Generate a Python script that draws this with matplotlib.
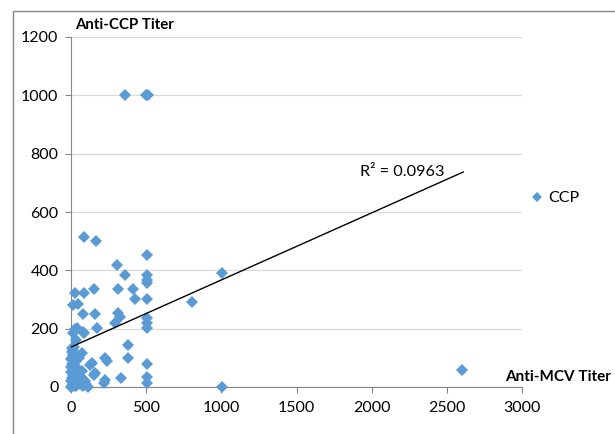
import matplotlib
matplotlib.use("Agg")
import matplotlib.pyplot as plt
from matplotlib.patches import Rectangle
import numpy as np

plt.rcParams['font.family'] = ['Lato', 'DejaVu Sans']

# Anti-MCV titer (x) vs Anti-CCP titer (y)
mcv = [360, 500, 510,
       86, 166, 506, 306, 359, 506, 506, 506, 27, 86, 153, 313, 412, 426, 506,
       13, 47, 80, 160, 313, 326, 293, 506, 506, 506, 40, 80, 173, 13, 33, 86,
       805, 1005, 380, 226, 240, 380, 506, 506, 506, 333, 220, 153, 140, 1005,
       2602, 73, 126, 160, 226, 27, 7,
       0, 5, 10, 15, 20, 25, 30, 0, 8, 12, 20, 3, 10, 18, 25, 0, 6, 14, 22,
       2, 9, 16, 4, 12, 20, 30, 40, 45, 50, 60, 70, 80, 90, 75, 100, 110, 35, 55]
ccp = [1000, 1000, 1000,
       514, 500, 452, 418, 384, 384, 367, 357, 322, 322, 336, 336, 336, 302, 302,
       281, 284, 250, 250, 254, 240, 219, 237, 219, 202, 202, 189, 202, 185, 161, 185,
       291, 391, 144, 99, 88, 99, 79, 34, 14, 31, 14, 41, 82, 0,
       58, 117, 75, 48, 24, 200, 135,
       0, 3, 8, 12, 5, 18, 2, 20, 30, 40, 35, 50, 55, 62, 48, 70, 80, 88, 75,
       95, 100, 110, 120, 128, 138, 25, 15, 40, 60, 10, 30, 5, 20, 55, 12, 0, 90, 100]

# linear trendline as shown in the chart
trend_intercept = 137
trend_slope = 0.23
trend_x = [0, 2609]
r2_label = "R² = 0.0963"

fig = plt.figure(figsize=(6.15, 4.34), dpi=100)
ax = fig.add_axes([71/615, 47/434, 451/615, 350/434])

ax.plot(mcv, ccp, linestyle="none", marker="D", ms=6.2, color="#5B9BD5",
        markeredgewidth=0, label="CCP", clip_on=False, zorder=3)
tx = np.array(trend_x)
ax.plot(tx, trend_intercept + trend_slope * tx, color="black", lw=1, zorder=4)
ax.text(1920, 712, r2_label, fontsize=11.7, ha="left", va="bottom")

ax.set_xlim(0, 3000)
ax.set_ylim(0, 1200)
ax.set_xticks(range(0, 3001, 500))
ax.set_yticks(range(0, 1201, 200))
ax.yaxis.grid(True, color="#D9D9D9", lw=0.9)
ax.set_axisbelow(True)
for s in ["top", "right"]:
    ax.spines[s].set_visible(False)
for s in ["left", "bottom"]:
    ax.spines[s].set_color("#868686")
ax.tick_params(axis="both", color="#868686", length=4, labelsize=11.5)
ax.tick_params(axis="x", pad=6)
ax.tick_params(axis="y", pad=5)

fig.text(75/615, 1 - 25/434, "Anti-CCP Titer", fontsize=10.8, fontweight="bold", va="center")
fig.text(505/615, 57/434, "Anti-MCV Titer", fontsize=11, fontweight="bold", va="center")

ax.legend(loc="center left", bbox_to_anchor=(516/615, 1 - 198/434),
          bbox_transform=fig.transFigure, frameon=False, fontsize=11.5,
          handlelength=0.8, handletextpad=0.3, markerscale=0.75)

fig.patches.append(Rectangle((13/615, -0.01), 1.0, 1 - 11/434 + 0.01,
                             transform=fig.transFigure, fill=False,
                             edgecolor="#868686", lw=1))

fig.savefig("out.png", dpi=100)
